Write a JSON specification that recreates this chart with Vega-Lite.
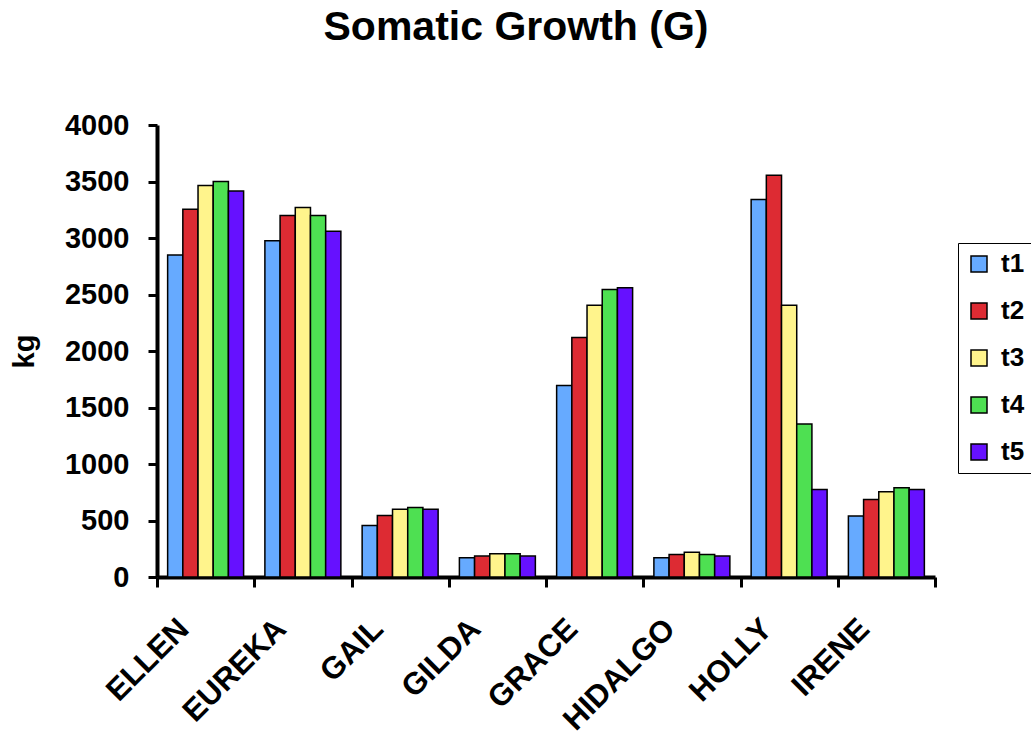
{
  "$schema": "https://vega.github.io/schema/vega-lite/v6.json",
  "autosize": "none",
  "width": 778,
  "height": 452,
  "padding": {"left": 157, "top": 125, "right": 96, "bottom": 161},
  "background": "white",
  "title": {
    "text": "Somatic Growth (G)",
    "font": "Liberation Sans",
    "fontSize": 41,
    "fontWeight": "bold",
    "color": "black",
    "anchor": "middle",
    "frame": "group",
    "dx": -30,
    "offset": 62
  },
  "data": {
    "values": [
      {"name": "ELLEN", "t": "t1", "kg": 2850},
      {"name": "ELLEN", "t": "t2", "kg": 3255},
      {"name": "ELLEN", "t": "t3", "kg": 3465},
      {"name": "ELLEN", "t": "t4", "kg": 3500},
      {"name": "ELLEN", "t": "t5", "kg": 3415},
      {"name": "EUREKA", "t": "t1", "kg": 2975},
      {"name": "EUREKA", "t": "t2", "kg": 3200},
      {"name": "EUREKA", "t": "t3", "kg": 3270},
      {"name": "EUREKA", "t": "t4", "kg": 3200},
      {"name": "EUREKA", "t": "t5", "kg": 3060},
      {"name": "GAIL", "t": "t1", "kg": 455},
      {"name": "GAIL", "t": "t2", "kg": 545},
      {"name": "GAIL", "t": "t3", "kg": 600},
      {"name": "GAIL", "t": "t4", "kg": 615},
      {"name": "GAIL", "t": "t5", "kg": 600},
      {"name": "GILDA", "t": "t1", "kg": 170},
      {"name": "GILDA", "t": "t2", "kg": 185},
      {"name": "GILDA", "t": "t3", "kg": 205},
      {"name": "GILDA", "t": "t4", "kg": 205},
      {"name": "GILDA", "t": "t5", "kg": 185},
      {"name": "GRACE", "t": "t1", "kg": 1695},
      {"name": "GRACE", "t": "t2", "kg": 2120},
      {"name": "GRACE", "t": "t3", "kg": 2405},
      {"name": "GRACE", "t": "t4", "kg": 2545},
      {"name": "GRACE", "t": "t5", "kg": 2560},
      {"name": "HIDALGO", "t": "t1", "kg": 170},
      {"name": "HIDALGO", "t": "t2", "kg": 200},
      {"name": "HIDALGO", "t": "t3", "kg": 220},
      {"name": "HIDALGO", "t": "t4", "kg": 200},
      {"name": "HIDALGO", "t": "t5", "kg": 185},
      {"name": "HOLLY", "t": "t1", "kg": 3340},
      {"name": "HOLLY", "t": "t2", "kg": 3555},
      {"name": "HOLLY", "t": "t3", "kg": 2405},
      {"name": "HOLLY", "t": "t4", "kg": 1355},
      {"name": "HOLLY", "t": "t5", "kg": 775},
      {"name": "IRENE", "t": "t1", "kg": 540},
      {"name": "IRENE", "t": "t2", "kg": 685},
      {"name": "IRENE", "t": "t3", "kg": 755},
      {"name": "IRENE", "t": "t4", "kg": 790},
      {"name": "IRENE", "t": "t5", "kg": 775}
    ]
  },
  "mark": {"type": "bar", "stroke": "black", "strokeWidth": 1.5, "opacity": 1},
  "encoding": {
    "x": {
      "field": "name",
      "type": "nominal",
      "sort": null,
      "scale": {"paddingInner": 0, "paddingOuter": 0},
      "axis": {
        "title": null,
        "labelAngle": -45,
        "labelAlign": "right",
        "labelBaseline": "middle",
        "labelFont": "Liberation Sans",
        "labelFontSize": 31,
        "labelFontWeight": "bold",
        "labelColor": "black",
        "labelPadding": 37,
        "labelOffset": -22,
        "tickBand": "extent",
        "tickColor": "black",
        "tickWidth": 3,
        "tickSize": 10,
        "domainColor": "black",
        "domainWidth": 4,
        "grid": false
      }
    },
    "xOffset": {"field": "t", "type": "nominal", "scale": {"paddingInner": 0, "paddingOuter": 0.7}},
    "y": {
      "field": "kg",
      "type": "quantitative",
      "scale": {"domain": [0, 4000], "nice": false},
      "axis": {
        "title": "kg",
        "titleFont": "Liberation Sans",
        "titleFontSize": 29,
        "titleFontWeight": "bold",
        "titleColor": "black",
        "titlePadding": 25,
        "values": [0, 500, 1000, 1500, 2000, 2500, 3000, 3500, 4000],
        "format": "d",
        "labelFont": "Liberation Sans",
        "labelFontSize": 29,
        "labelFontWeight": "bold",
        "labelColor": "black",
        "labelPadding": 19,
        "tickColor": "black",
        "tickWidth": 3,
        "tickSize": 9,
        "domainColor": "black",
        "domainWidth": 4,
        "grid": false
      }
    },
    "color": {
      "field": "t",
      "type": "nominal",
      "scale": {
        "domain": ["t1", "t2", "t3", "t4", "t5"],
        "range": ["#66AAFF", "#DD2B33", "#FFF48C", "#4EE052", "#6611FF"]
      },
      "legend": {
        "title": null,
        "orient": "none",
        "legendX": 801,
        "legendY": 118,
        "padding": 8,
        "strokeColor": "black",
        "fillColor": "white",
        "symbolType": "square",
        "symbolSize": 256,
        "symbolStrokeColor": "black",
        "symbolStrokeWidth": 1.5,
        "symbolOpacity": 1,
        "labelFont": "Liberation Sans",
        "labelFontSize": 26,
        "labelFontWeight": "bold",
        "labelColor": "black",
        "labelOffset": 9,
        "rowPadding": 21
      }
    }
  },
  "config": {"view": {"stroke": null}}
}
